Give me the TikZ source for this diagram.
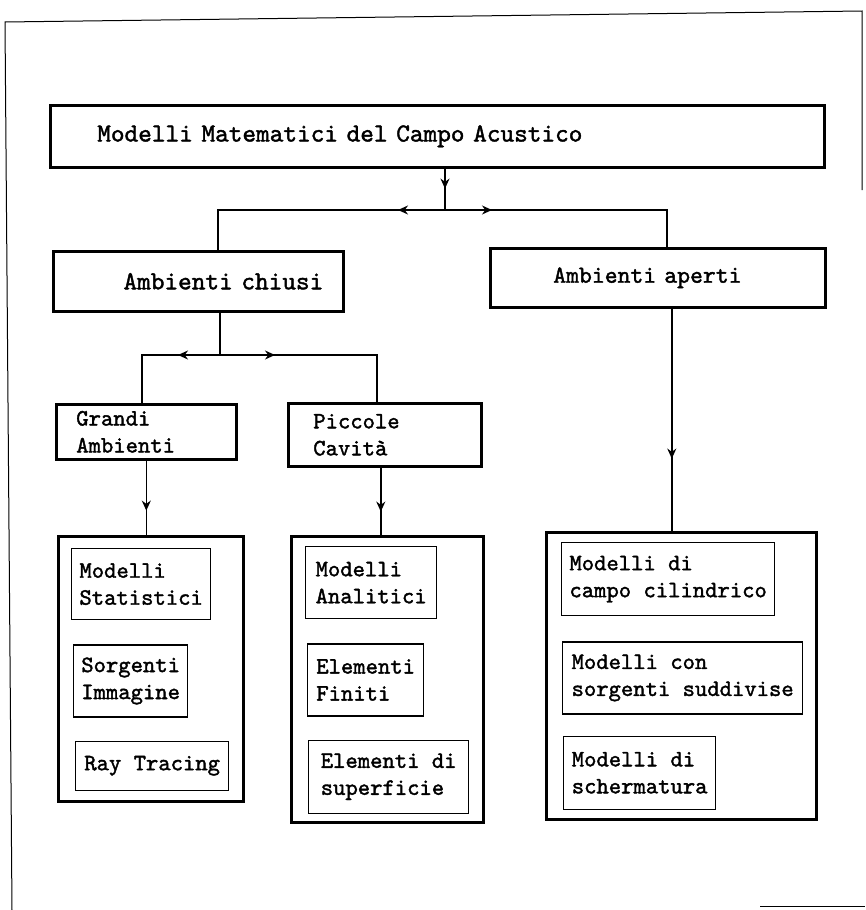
\documentclass[tikz,border=0pt]{standalone}
\usepackage{fontspec}
\setmonofont{lmmono10-regular.otf}[FakeBold=1.6]
\usetikzlibrary{positioning, arrows.meta, decorations.markings}
\newcommand{\hugett}{\ttfamily\fontsize{26}{27}\selectfont}
\newcommand{\bigtt}{\ttfamily\fontsize{24.5}{27}\selectfont}
\newcommand{\smalltt}{\ttfamily\fontsize{23.5}{27}\selectfont}
\tikzstyle{rect} = [rectangle,
			draw,
			line width = 2.6pt,
			anchor = north west,
			align = left,
			inner xsep = 0pt,
			font = \bigtt]
\tikzstyle{irect} = [rectangle,
			draw,
			line width = 1.3pt,
			anchor = north west,
			align = left,
			inner xsep = 0pt,
			font = \smalltt]
\tikzstyle{group} = [rectangle,
			draw,
			line width = 2.8pt,
			anchor = north west]
\tikzstyle{conn} = [draw, line width = 1.4pt]
\tikzset{mid arrow/.style={postaction={decorate},
	decoration={markings, mark=at position #1 with {\arrow{Stealth[length=10pt, width=9pt]}}}}}

\begin{document}
\begin{tikzpicture}[x=1pt, y=-1pt]
	\useasboundingbox (0,0) rectangle (865,910);
	% page frame
	\draw[line width=1pt] (12,910) -- (5,22) -- (862,11) -- (862,190);
	\draw[line width=1pt] (760,906) -- (865,906);

	% top levels
	\node [rect, font=\hugett, minimum width=774pt, minimum height=62pt, text width=680pt] (modelli) at (49,104) {Modelli Matematici del Campo Acustico};
	\node [rect, font=\hugett, minimum width=290pt, minimum height=60pt, text width=250pt, align=right] (chiusi) at (52,250) {Ambienti chiusi};
	\node [rect, minimum width=335pt, minimum height=59pt, text width=209pt] (aperti) at (489,247) {Ambienti aperti};
	\node [rect, font=\smalltt, minimum width=180pt, minimum height=55pt, text width=140pt] (grandi) at (55,403) {Grandi\\Ambienti};
	\node [rect, font=\smalltt, minimum width=193pt, minimum height=63pt, text width=143pt] (piccole) at (287,402) {Piccole\\Cavità};

	% groups of models
	\node [group, minimum width=185pt, minimum height=265pt] (box-grandi) at (57,535) {};
	\node [group, minimum width=192pt, minimum height=286pt] (box-piccole) at (290,535) {};
	\node [group, minimum width=270pt, minimum height=287pt] (box-aperti) at (545,531) {};

	\node [irect, minimum width=139pt, minimum height=71pt] (statistici) at (71,548) {Modelli\\Statistici};
	\node [irect, below=24pt of statistici.south west, anchor=north west, xshift=2pt, minimum width=114pt, minimum height=72pt] (immagine) {Sorgenti\\Immagine};
	\node [irect, below=23pt of immagine.south west, anchor=north west, xshift=2pt, minimum width=153pt, minimum height=49pt] (raytracing) {Ray Tracing};

	\node [irect, minimum width=131pt, minimum height=72pt] (analitici) at (305,546) {Modelli\\Analitici};
	\node [irect, below=24pt of analitici.south west, anchor=north west, xshift=2pt, minimum width=116pt, minimum height=72pt] (finiti) {Elementi\\Finiti};
	\node [irect, below=23pt of finiti.south west, anchor=north west, xshift=1pt, minimum width=160pt, minimum height=73pt] (superficie) {Elementi di\\superficie};

	\node [irect, minimum width=213pt, minimum height=73pt] (cilindrico) at (561,542) {Modelli di\\campo cilindrico};
	\node [irect, below=25pt of cilindrico.south west, anchor=north west, xshift=1pt, minimum width=240pt, minimum height=72pt] (suddivise) {Modelli con\\sorgenti suddivise};
	\node [irect, below=21pt of suddivise.south west, anchor=north west, xshift=1pt, minimum width=152pt, minimum height=73pt] (schermatura) {Modelli di\\schermatura};

	% connectors
	\coordinate (split-top) at (445,210);
	\coordinate (bend-chiusi) at (218,210);
	\coordinate (bend-aperti) at (667,210);
	\coordinate (split-chiusi) at (220,355);
	\coordinate (bend-grandi) at (142,355);
	\coordinate (bend-piccole) at (377,355);

	\draw[conn, mid arrow=20pt] (modelli.south -| split-top) -- (split-top);
	\draw[conn, mid arrow=47pt] (split-top) -- (bend-chiusi) -- (bend-chiusi |- chiusi.north);
	\draw[conn, mid arrow=47pt] (split-top) -- (bend-aperti) -- (bend-aperti |- aperti.north);
	\draw[conn] (chiusi.south -| split-chiusi) -- (split-chiusi);
	\draw[conn, mid arrow=42pt] (split-chiusi) -- (bend-grandi) -- (bend-grandi |- grandi.north);
	\draw[conn, mid arrow=55pt] (split-chiusi) -- (bend-piccole) -- (bend-piccole |- piccole.north);
	\draw[conn, mid arrow=50pt] (grandi.south) -- (grandi.south |- box-grandi.north);
	\draw[conn, mid arrow=44pt] ([xshift=-4pt]piccole.south) -- ([xshift=-4pt]piccole.south |- box-piccole.north);
	\draw[conn, mid arrow=150pt] ([xshift=14pt]aperti.south) -- ([xshift=14pt]aperti.south |- box-aperti.north);
\end{tikzpicture}
\end{document}
